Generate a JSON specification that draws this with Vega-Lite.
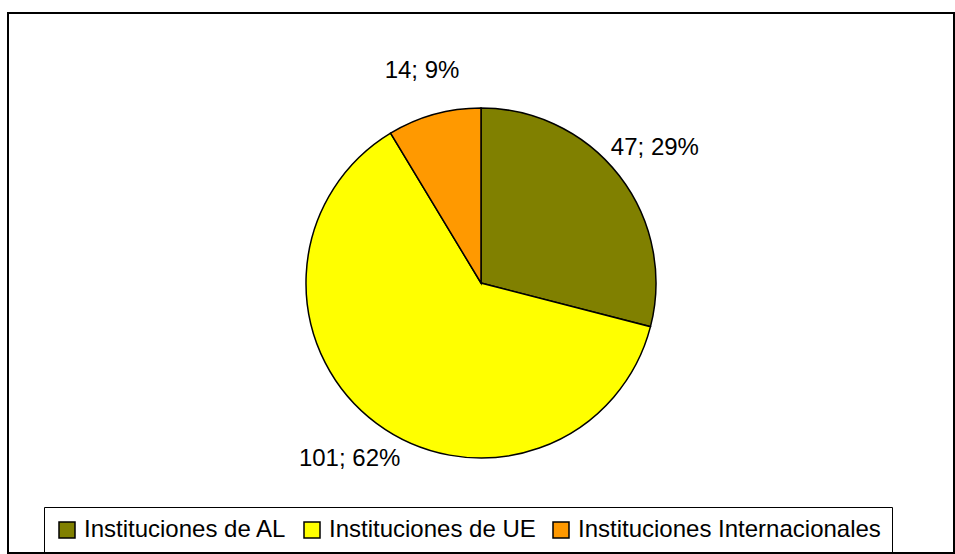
{
  "$schema": "https://vega.github.io/schema/vega-lite/v6.json",
  "width": 955,
  "height": 554,
  "autosize": {"type": "fit", "contains": "padding"},
  "padding": {"left": 7, "top": 12, "right": 0, "bottom": 0},
  "background": "white",
  "config": {
    "view": {"stroke": null},
    "font": "Liberation Sans"
  },
  "data": {
    "values": [
      {"categoria": "Instituciones de AL", "valor": 47, "etiqueta": "47; 29%", "orden": 1},
      {"categoria": "Instituciones de UE", "valor": 101, "etiqueta": "101; 62%", "orden": 2},
      {"categoria": "Instituciones Internacionales", "valor": 14, "etiqueta": "14; 9%", "orden": 3}
    ]
  },
  "layer": [
    {
      "data": {"values": [{"marco": 1}]},
      "mark": {"type": "rect", "fill": null, "stroke": "black", "strokeWidth": 2},
      "encoding": {}
    },
    {
      "mark": {"type": "arc", "outerRadius": 175, "stroke": "black", "strokeWidth": 1.5},
      "encoding": {
        "theta": {"field": "valor", "type": "quantitative", "stack": true},
        "order": {"field": "orden", "type": "quantitative"},
        "color": {
          "field": "categoria",
          "type": "nominal",
          "sort": null,
          "scale": {
            "domain": ["Instituciones de AL", "Instituciones de UE", "Instituciones Internacionales"],
            "range": ["#808000", "#FFFF00", "#FF9900"]
          },
          "legend": {
            "orient": "none",
            "legendX": 36,
            "legendY": 494,
            "direction": "horizontal",
            "title": null,
            "strokeColor": "black",
            "padding": 11,
            "symbolType": "square",
            "symbolSize": 256,
            "symbolStrokeColor": "black",
            "symbolStrokeWidth": 1.5,
            "symbolOpacity": 1,
            "labelFontSize": 24,
            "labelFont": "Liberation Sans",
            "labelColor": "black",
            "labelLimit": 400,
            "gridAlign": "none",
            "columnPadding": 13,
            "labelOffset": 5
          }
        }
      }
    },
    {
      "mark": {"type": "text", "radius": 220, "fontSize": 24, "font": "Liberation Sans", "fill": "black"},
      "encoding": {
        "theta": {"field": "valor", "type": "quantitative", "stack": true},
        "order": {"field": "orden", "type": "quantitative"},
        "text": {"field": "etiqueta", "type": "nominal"}
      }
    }
  ]
}
